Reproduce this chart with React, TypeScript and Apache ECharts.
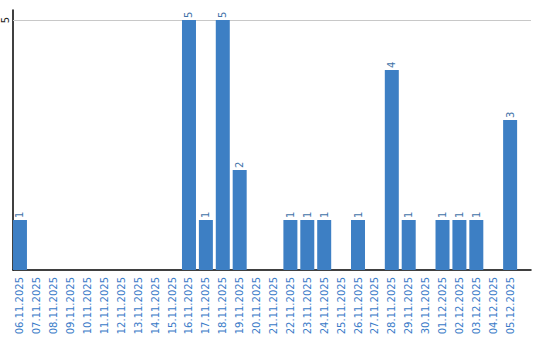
import React, { useEffect, useRef } from "react";
import * as echarts from "echarts";

const categories = [
  "06.11.2025", "07.11.2025", "08.11.2025", "09.11.2025", "10.11.2025",
  "11.11.2025", "12.11.2025", "13.11.2025", "14.11.2025", "15.11.2025",
  "16.11.2025", "17.11.2025", "18.11.2025", "19.11.2025", "20.11.2025",
  "21.11.2025", "22.11.2025", "23.11.2025", "24.11.2025", "25.11.2025",
  "26.11.2025", "27.11.2025", "28.11.2025", "29.11.2025", "30.11.2025",
  "01.12.2025", "02.12.2025", "03.12.2025", "04.12.2025", "05.12.2025",
];
const values = [
  1, 0, 0, 0, 0, 0, 0, 0, 0, 0,
  5, 1, 5, 2, 0, 0, 1, 1, 1, 0,
  1, 0, 4, 1, 0, 1, 1, 1, 0, 3,
];
const yTicks = [0, 5];
const gridLines = [5];

const FONT = "DejaVu Sans, Verdana, sans-serif";

export default function App() {
  const ref = useRef<HTMLDivElement>(null);
  useEffect(() => {
    if (!ref.current) return;
    const chart = echarts.init(ref.current, undefined, { renderer: "svg" });
    const idx = categories.map((_, i) => i);
    chart.setOption({
      animation: false,
      grid: { left: 10, right: 9, top: 10, bottom: 70, containLabel: false },
      xAxis: {
        type: "value",
        min: -7 / 17,
        max: 521 / 17 - 7 / 17,
        axisLine: { show: true, onZero: false, lineStyle: { color: "#000", width: 1.5 } },
        axisTick: { show: false },
        splitLine: { show: false },
        axisLabel: {
          customValues: idx,
          rotate: 90,
          margin: 7,
          color: "#3a7bc8",
          fontSize: 10,
          fontFamily: FONT,
          formatter: (v: number) => categories[Math.round(v)] ?? "",
        },
      },
      yAxis: {
        type: "value",
        min: 0,
        max: 5.2,
        interval: 5,
        axisLine: { show: true, onZero: false, lineStyle: { color: "#000", width: 1.5 } },
        axisTick: { show: false },
        splitLine: { show: false },
        axisLabel: {
          customValues: yTicks,
          rotate: 90,
          margin: 3,
          color: "#222",
          fontSize: 10,
          fontFamily: FONT,
          formatter: (v: number) => (v === 0 ? "" : String(v)),
        },
      },
      series: [
        {
          type: "bar",
          barWidth: 14,
          z: 3,
          data: values.map((v, i) => [i, v]),
          itemStyle: { color: "#3d7fc4" },
          label: {
            show: true,
            position: "top",
            rotate: 90,
            align: "left",
            verticalAlign: "middle",
            distance: 2,
            color: "#3f73a8",
            fontSize: 10,
            fontFamily: FONT,
            formatter: (p: any) => (p.value[1] > 0 ? String(p.value[1]) : ""),
          },
          markLine: {
            silent: true,
            symbol: "none",
            z: 1,
            label: { show: false },
            lineStyle: { color: "#c8c8c8", width: 1, type: "solid" },
            data: gridLines.map((y) => ({ yAxis: y })),
          },
        },
      ],
    });
    return () => chart.dispose();
  }, []);
  return <div ref={ref} style={{ width: 540, height: 340, position: "absolute", left: 0, top: 0 }} />;
}
